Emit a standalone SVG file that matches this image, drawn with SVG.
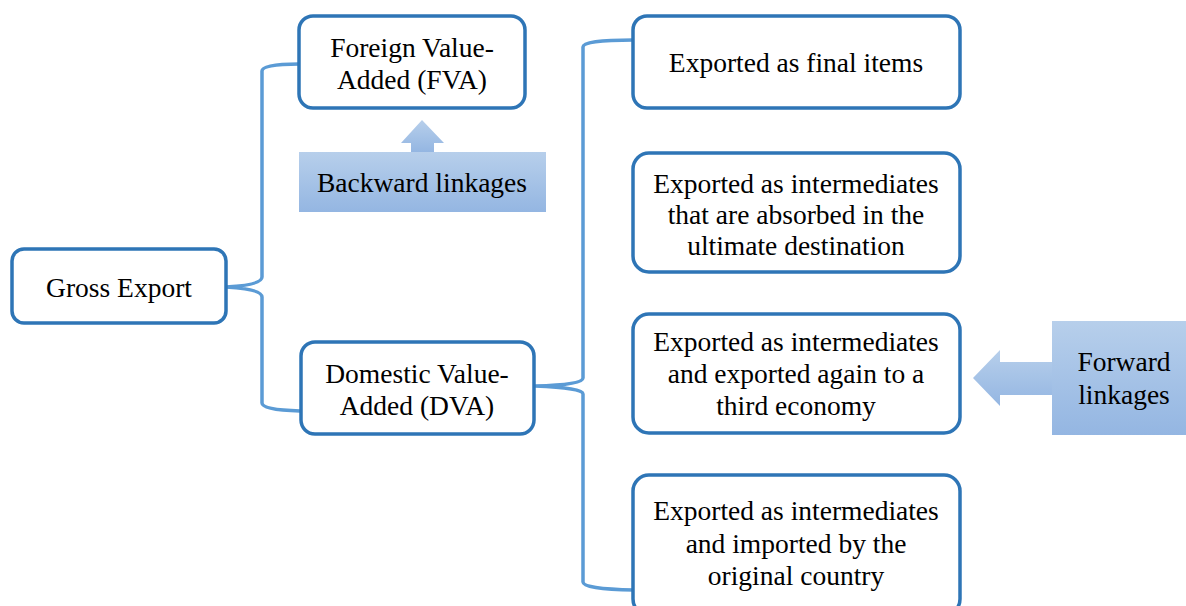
<svg xmlns="http://www.w3.org/2000/svg" width="1186" height="606" viewBox="0 0 1186 606">
<style>
.box{fill:#fff;stroke:#2e75b6;stroke-width:3.5}
.t{font-family:"Liberation Serif","Times New Roman",serif;font-size:27.5px;fill:#000;text-anchor:middle}
.con{fill:none;stroke:#5b9bd5;stroke-width:3.5;stroke-linejoin:round}
.lk{fill:url(#g)}
</style>
<defs>
<linearGradient id="g" x1="0" y1="0" x2="0" y2="1">
<stop offset="0" stop-color="#b7cfeb"/>
<stop offset="1" stop-color="#94b6e2"/>
</linearGradient>
</defs>
<rect width="1186" height="606" fill="#fff"/>
<g id="connectors">
<path class="con" d="M299 64 Q262 64 262 71 L262 277 Q262 285 226 287 Q262 289 262 297 L262 403 Q262 410 300 411"/>
<path class="con" d="M633 40 Q583 40 583 47 L583 378 Q583 385 535 386 Q583 388 583 394 L583 582 Q583 589 634 590"/>
</g>
<g id="gross">
<rect class="box" x="12" y="249" width="214" height="74" rx="12"/>
<text class="t" x="119" y="297">Gross Export</text>
</g>
<g id="fva">
<rect class="box" x="299" y="16" width="226" height="92" rx="14"/>
<text class="t" x="412" y="57">Foreign Value-</text>
<text class="t" x="412" y="89">Added (FVA)</text>
</g>
<g id="backward">
<polygon class="lk" points="411,152 411,143 401,143 422,120 444,143 434,143 434,152"/>
<rect class="lk" x="299" y="152" width="247" height="60"/>
<text class="t" x="422" y="192">Backward linkages</text>
</g>
<g id="dva">
<rect class="box" x="301" y="342" width="233" height="92" rx="14"/>
<text class="t" x="417" y="383">Domestic Value-</text>
<text class="t" x="417" y="415">Added (DVA)</text>
</g>
<g id="final">
<rect class="box" x="633" y="16" width="327" height="92" rx="14"/>
<text class="t" x="796" y="72">Exported as final items</text>
</g>
<g id="absorbed">
<rect class="box" x="633" y="153" width="327" height="119" rx="16"/>
<text class="t" x="796" y="193">Exported as intermediates</text>
<text class="t" x="796" y="224">that are absorbed in the</text>
<text class="t" x="796" y="255">ultimate destination</text>
</g>
<g id="third">
<rect class="box" x="633" y="314" width="327" height="119" rx="16"/>
<text class="t" x="796" y="351">Exported as intermediates</text>
<text class="t" x="796" y="383">and exported again to a</text>
<text class="t" x="796" y="415">third economy</text>
</g>
<g id="reimported">
<rect class="box" x="633" y="475" width="327" height="140" rx="16"/>
<text class="t" x="796" y="520">Exported as intermediates</text>
<text class="t" x="796" y="553">and imported by the</text>
<text class="t" x="796" y="585">original country</text>
</g>
<g id="forward">
<polygon class="lk" points="1052,362 1000,362 1000,350 973,378 1000,406 1000,395 1052,395"/>
<rect class="lk" x="1052" y="321" width="134" height="114"/>
<text class="t" x="1124" y="371">Forward</text>
<text class="t" x="1124" y="404">linkages</text>
</g>
</svg>
